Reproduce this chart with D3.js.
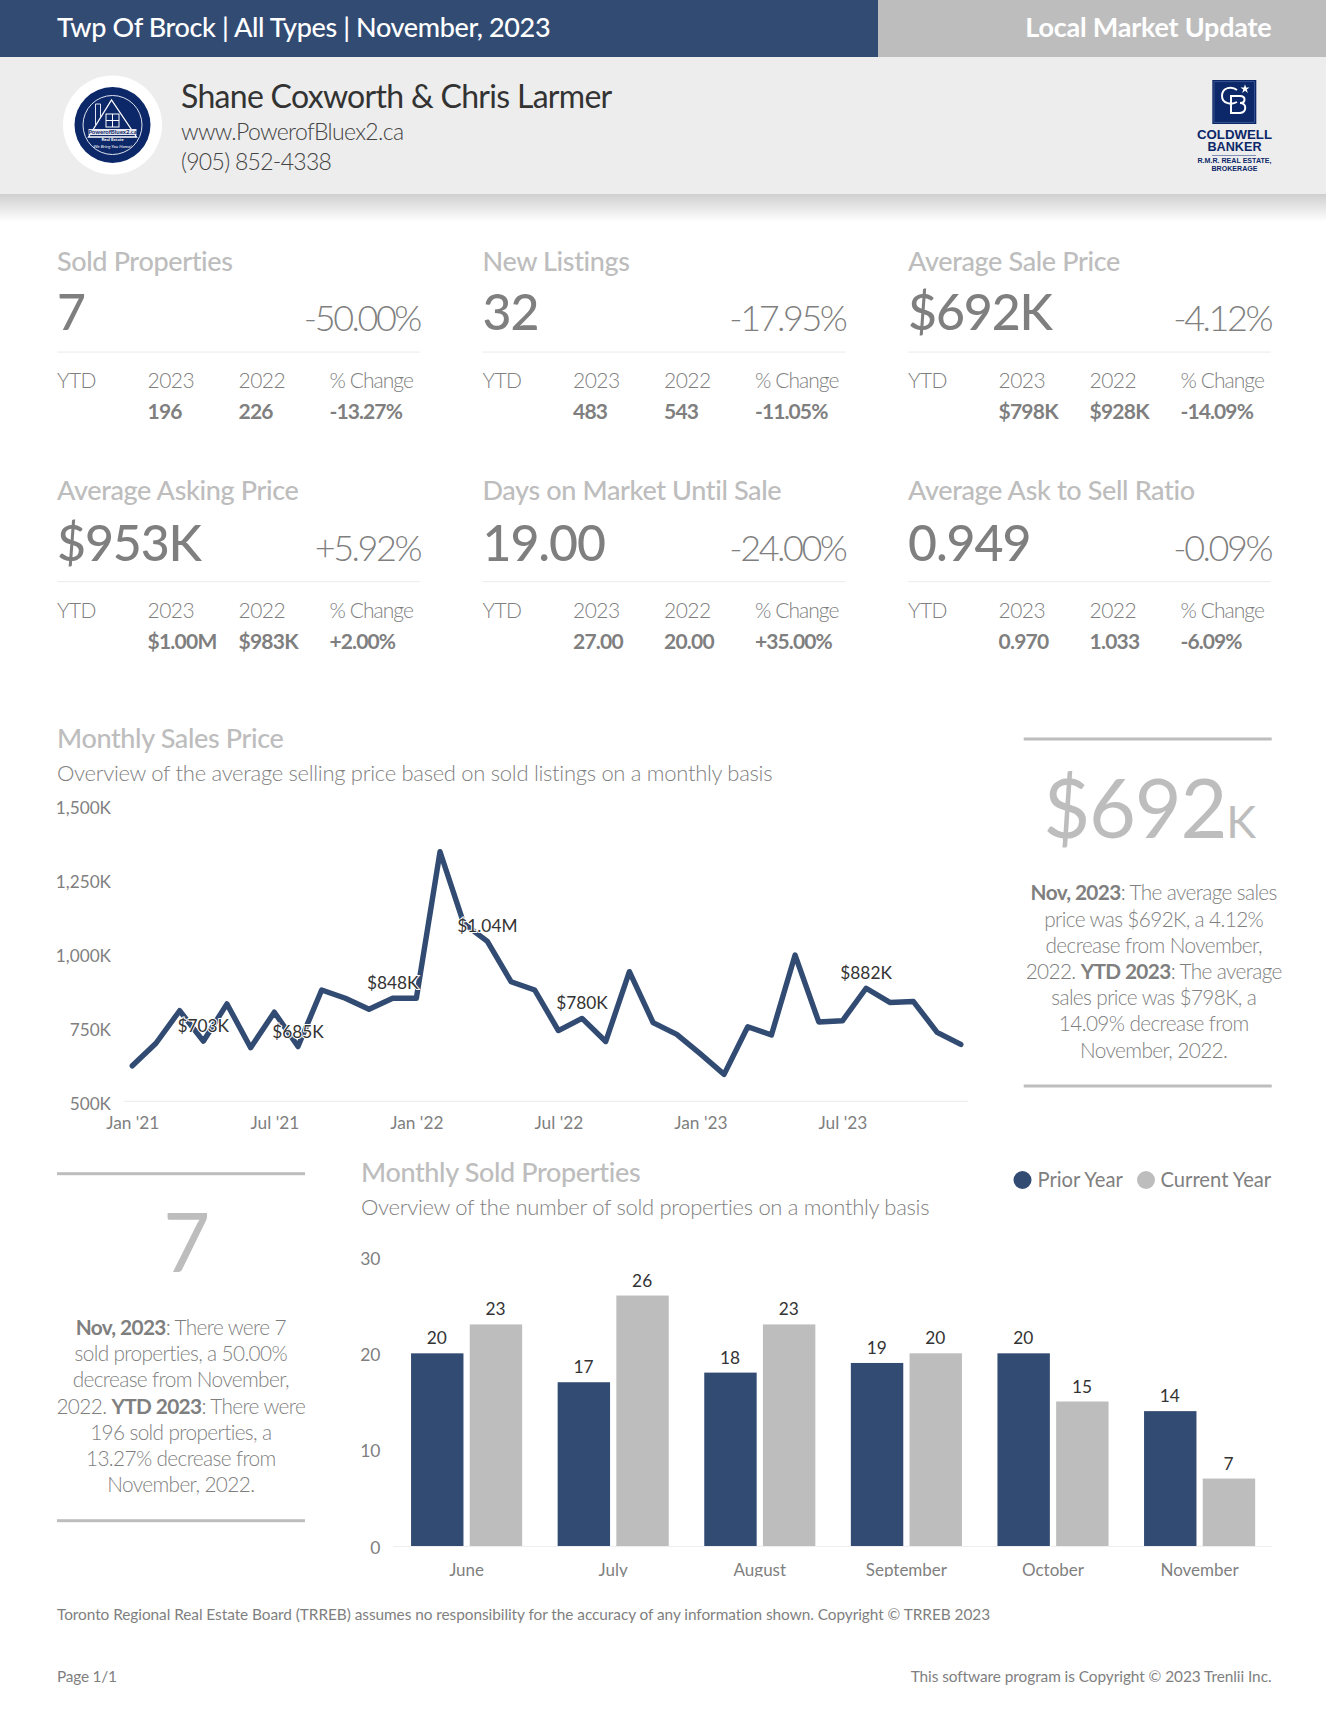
<!DOCTYPE html>
<html><head><meta charset="utf-8">
<script src="https://cdnjs.cloudflare.com/ajax/libs/d3/7.8.5/d3.min.js"></script>
<style>
html,body{margin:0;padding:0;background:#fff}
svg{display:block}
text{font-family:Lato,"Open Sans",sans-serif}
</style></head><body><div id="page"></div>
<script>
// ---- data ----
const priceMonths = ["Jan '21","Feb '21","Mar '21","Apr '21","May '21","Jun '21","Jul '21","Aug '21","Sep '21","Oct '21","Nov '21","Dec '21",
 "Jan '22","Feb '22","Mar '22","Apr '22","May '22","Jun '22","Jul '22","Aug '22","Sep '22","Oct '22","Nov '22","Dec '22",
 "Jan '23","Feb '23","Mar '23","Apr '23","May '23","Jun '23","Jul '23","Aug '23","Sep '23","Oct '23","Nov '23","Dec '23"];
const priceValues = [620,696,806,703,829,681,801,685,876,848,811,848,848,1343,1101,1040,904,876,739,780,702,938,766,726,660,591,752,724,994,768,772,882,834,837,733,692];
const priceTickLabels = ["Jan '21","Jul '21","Jan '22","Jul '22","Jan '23","Jul '23"];
const priceTicks = [500,750,1000,1250,1500];
const priceCallouts = {"Apr '21":"$703K","Aug '21":"$685K","Dec '21":"$848K","Apr '22":"$1.04M","Aug '22":"$780K","Aug '23":"$882K"};

const soldMonths = ["June","July","August","September","October","November"];
const priorYear = [20,17,18,19,20,14];
const currentYear = [23,26,23,20,15,7];
const soldTicks = [0,10,20,30];
const soldSeries = ["Prior Year","Current Year"];

const kpiTitles = ["Sold Properties","New Listings","Average Sale Price","Average Asking Price","Days on Market Until Sale","Average Ask to Sell Ratio"];
const kpiValues = ["7","32","$692K","$953K","19.00","0.949"];
const kpiChanges = ["-50.00%","-17.95%","-4.12%","+5.92%","-24.00%","-0.09%"];
const ytdCurrent = ["196","483","$798K","$1.00M","27.00","0.970"];
const ytdPrior = ["226","543","$928K","$983K","20.00","1.033"];
const ytdChange = ["-13.27%","-11.05%","-14.09%","+2.00%","+35.00%","-6.09%"];

const pricePanel = [
 [["Nov, 2023",1],[": The average sales",0]],
 [["price was $692K, a 4.12%",0]],
 [["decrease from November,",0]],
 [["2022. ",0],["YTD 2023",1],[": The average",0]],
 [["sales price was $798K, a",0]],
 [["14.09% decrease from",0]],
 [["November, 2022.",0]]];
const soldPanel = [
 [["Nov, 2023",1],[": There were 7",0]],
 [["sold properties, a 50.00%",0]],
 [["decrease from November,",0]],
 [["2022. ",0],["YTD 2023",1],[": There were",0]],
 [["196 sold properties, a",0]],
 [["13.27% decrease from",0]],
 [["November, 2022.",0]]];

// ---- page ----
const BLUE="#324b73", GREY="#bdbdbd", TXT="#7f7f7f", DARK="#333333", NAVY="#0c2868";
const svg = d3.select("#page").append("svg").attr("width",1326).attr("height",1726);
const defs = svg.append("defs");
const g0 = defs.append("linearGradient").attr("id","shadow").attr("x1",0).attr("x2",0).attr("y1",0).attr("y2",1);
g0.append("stop").attr("offset",0).attr("stop-color","#cfcfcf");
g0.append("stop").attr("offset",1).attr("stop-color","#ffffff");
defs.append("clipPath").attr("id","barclip").append("rect").attr("x",340).attr("y",1200).attr("width",986).attr("height",377);

function T(x,y,s,size,fill,weight,anchor,parent,ls){
  return (parent||svg).append("text").attr("x",x).attr("y",y).text(s)
    .attr("font-size",size).attr("fill",fill).attr("font-weight",weight||400).attr("text-anchor",anchor||"start")
    .attr("letter-spacing",ls||0);
}
// header
svg.append("rect").attr("x",0).attr("y",0).attr("width",878).attr("height",57).attr("fill",BLUE);
svg.append("rect").attr("x",878).attr("y",0).attr("width",448).attr("height",57).attr("fill",GREY);
svg.append("rect").attr("x",0).attr("y",57).attr("width",1326).attr("height",137).attr("fill","#ededed");
svg.append("rect").attr("x",0).attr("y",194).attr("width",1326).attr("height",28).attr("fill","url(#shadow)");
T(57,37,"Twp Of Brock | All Types | November, 2023",27,"#fff",500,null,null,-0.38);
T(1271.5,37,"Local Market Update",27,"#fff",700,"end",null,-0.23);
T(181,108,"Shane Coxworth & Chris Larmer",32,DARK,400,null,null,-0.7);
T(181,140,"www.PowerofBluex2.ca",23,"#444",300,null,null,-0.66);
T(181,170,"(905) 852-4338",23,"#444",300,null,null,-0.7);

// left logo
const L = svg.append("g").attr("transform","translate(112.5,125)");
L.append("circle").attr("r",49.5).attr("fill","#fff");
L.append("circle").attr("r",38).attr("fill",NAVY);
L.append("circle").attr("r",29.5).attr("fill","none").attr("stroke","#dfe4f0").attr("stroke-width",1);
L.append("path").attr("d","M-24,12 L-1,-25 L24,12 Z").attr("fill","none").attr("stroke","#fff").attr("stroke-width",1.3);
L.append("path").attr("d","M-17,1 V-21 H-12 V-8").attr("fill","none").attr("stroke","#dfe4f0").attr("stroke-width",1);
L.append("rect").attr("x",-6.5).attr("y",-11).attr("width",13).attr("height",13).attr("fill","none").attr("stroke","#fff").attr("stroke-width",1);
L.append("path").attr("d","M0,-11 V2 M-6.5,-4.5 H6.5").attr("stroke","#fff").attr("stroke-width",1);
L.append("rect").attr("x",-24).attr("y",4).attr("width",48).attr("height",6).attr("fill","#e8e8f0");
T(0,9,"PowerofBluex2.ca",6,NAVY,700,"middle",L);
T(0,16,"Real Estate",4.5,"#fff",700,"middle",L);
T(0,23,"We Bring You Home!",4.5,"#fff",400,"middle",L).attr("font-style","italic");

// right logo
const R = svg.append("g");
R.append("rect").attr("x",1212.3).attr("y",80).attr("width",44).attr("height",44).attr("fill",NAVY);
R.append("rect").attr("x",1214).attr("y",81.7).attr("width",40.6).attr("height",40.6).attr("fill","none").attr("stroke","#4a64a0").attr("stroke-width",.7);
R.append("path").attr("d","M1237,90 C1232,86 1222,87 1222,96 C1222,104 1232,105 1237,102").attr("fill","none").attr("stroke","#fff").attr("stroke-width",2);
R.append("path").attr("d","M1231,96 H1240 C1246,96 1246,103 1240,103 C1247,103 1247,112 1240,113 H1231 Z").attr("fill","none").attr("stroke","#fff").attr("stroke-width",2);
R.append("path").attr("d",d3.symbol(d3.symbolStar,26)()).attr("transform","translate(1245,89)").attr("fill","#fff");
[["COLDWELL",138.5,12,75],["BANKER",151,12,54]].forEach(d=>{
  T(1234.5,d[1],d[0],d[2],NAVY,700,"middle").attr("textLength",d[3]).attr("lengthAdjust","spacingAndGlyphs").style("font-family","'Liberation Sans'");
});
svg.append("rect").attr("x",1212).attr("y",155).attr("width",44).attr("height",1).attr("fill","#7f8fb8");
T(1234.5,163,"R.M.R. REAL ESTATE,",7,NAVY,700,"middle").attr("textLength",74).attr("lengthAdjust","spacingAndGlyphs").style("font-family","'Liberation Sans'");
T(1234.5,171,"BROKERAGE",7,NAVY,700,"middle").attr("textLength",46).attr("lengthAdjust","spacingAndGlyphs").style("font-family","'Liberation Sans'");

// KPI grid
kpiTitles.forEach((title,i)=>{
  const x = [57,482.5,908][i%3], row = i<3?0:1, dy = row*229.5;
  T(x,270.7+row*229,title,27,GREY,500,null,null,-0.36);
  T(x,330+row*230.5,kpiValues[i],50,TXT,500,null,null,-1.1);
  T(x+363,331+row*230,kpiChanges[i],36,TXT,300,"end",null,-2.45);
  svg.append("rect").attr("x",x).attr("y",351.5+dy).attr("width",363).attr("height",1.2).attr("fill","#eeeeee");
  const cols=[x,x+90.5,x+181.5,x+272.5];
  ["YTD","2023","2022","% Change"].forEach((s,k)=>T(cols[k],388+dy,s,21,TXT,300,null,null,k==3?-0.95:-0.55));
  T(cols[1],419+dy,ytdCurrent[i],21,TXT,700,null,null,-0.75);
  T(cols[2],419+dy,ytdPrior[i],21,TXT,700,null,null,-0.75);
  T(cols[3],419+dy,ytdChange[i],21,TXT,700,null,null,-0.9);
});

// Line chart
T(57,748,"Monthly Sales Price",27,GREY,500,null,null,-0.36);
T(57,780.5,"Overview of the average selling price based on sold listings on a monthly basis",22,TXT,300,null,null,-0.3);
const xL = d3.scalePoint().domain(priceMonths).range([132.3,960.8]);
const yL = d3.scaleLinear().domain([500,1500]).range([1101.3,805.3]);
svg.append("line").attr("x1",124).attr("x2",968).attr("y1",yL(500)).attr("y2",yL(500)).attr("stroke","#eeeeee").attr("stroke-width",1.2);
const axL = svg.append("g").attr("transform","translate(124,0)")
  .call(d3.axisLeft(yL).tickValues(priceTicks).tickSize(0).tickPadding(13).tickFormat(d=>d3.format(",")(d)+"K"));
axL.select(".domain").remove();
axL.selectAll("text").attr("font-size",17.2).attr("fill",TXT).attr("dy","7.8px").style("font-family","Lato");
const axB = svg.append("g").attr("transform","translate(0,1101.3)")
  .call(d3.axisBottom(xL).tickValues(priceTickLabels).tickSize(0).tickPadding(0));
axB.select(".domain").remove();
axB.selectAll("text").attr("font-size",17.3).attr("fill",TXT).attr("y",28).attr("dy",0).style("font-family","Lato");
svg.append("path").datum(priceValues)
  .attr("d",d3.line().x((d,i)=>xL(priceMonths[i])).y(d=>yL(d)))
  .attr("fill","none").attr("stroke",BLUE).attr("stroke-width",5.4).attr("stroke-linejoin","round").attr("stroke-linecap","round");
svg.append("g").selectAll("text").data(priceMonths.filter(m=>priceCallouts[m])).join("text")
  .attr("x",m=>xL(m)).attr("y",m=>yL(priceValues[priceMonths.indexOf(m)])-9)
  .attr("text-anchor","middle").attr("font-size",17.3).attr("fill",DARK)
  .attr("stroke","#fff").attr("stroke-width",2).attr("paint-order","stroke").text(m=>priceCallouts[m]);

// Side panels
function panel(x1,x2,yTop,yBot,cx,lines,firstBase){
  [yTop,yBot].forEach(y=>svg.append("rect").attr("x",x1).attr("y",y-1.5).attr("width",x2-x1).attr("height",3).attr("fill",GREY));
  lines.forEach((ln,i)=>{
    const t = svg.append("text").attr("x",cx).attr("y",firstBase+i*26.2).attr("text-anchor","middle").attr("font-size",20.8).attr("fill",TXT).attr("font-weight",300).attr("letter-spacing",-0.63);
    ln.forEach(p=>t.append("tspan").text(p[0]).attr("font-weight",p[1]?700:300));
  });
}
panel(1023.7,1271.7,739,1086,1153.7,pricePanel,900.3);
const big = svg.append("text").attr("x",1149).attr("y",838).attr("text-anchor","middle").attr("font-size",81).attr("fill",GREY).attr("font-weight",400).attr("letter-spacing",-1.2);
big.append("tspan").text("$692");
big.append("tspan").text("K").attr("font-size",45);
panel(57,305,1173.7,1520.7,180.8,soldPanel,1335);
T(186.7,1271.7,"7",81,GREY,400,"middle");

// Bar chart
T(361,1182,"Monthly Sold Properties",27,GREY,500,null,null,-0.36);
T(361,1214.5,"Overview of the number of sold properties on a monthly basis",22,TXT,300,null,null,-0.3);
const legendItems = [[1022.5,1037.5],[1146,1160.5]];
soldSeries.forEach((s,i)=>{
  svg.append("circle").attr("cx",legendItems[i][0]).attr("cy",1180).attr("r",9).attr("fill",i?GREY:BLUE);
  T(legendItems[i][1],1186.5,s,20.2,TXT,400);
});
const xB = d3.scaleBand().domain(soldMonths).range([393.3,1272.9]);
const xS = d3.scaleBand().domain(soldSeries).range([17.75,128.85]).paddingInner(0.107);
const yB = d3.scaleLinear().domain([0,30]).range([1546,1257]);
svg.append("line").attr("x1",393).attr("x2",1272).attr("y1",1546.5).attr("y2",1546.5).attr("stroke","#eeeeee").attr("stroke-width",1.2);
const ayB = svg.append("g").attr("transform","translate(393,0)")
  .call(d3.axisLeft(yB).tickValues(soldTicks).tickSize(0).tickPadding(12.5).tickFormat(d3.format("d")));
ayB.select(".domain").remove();
ayB.selectAll("text").attr("font-size",17.5).attr("fill",TXT).attr("dy","7px").style("font-family","Lato");
const axS = svg.append("g").attr("clip-path","url(#barclip)").append("g").attr("transform","translate(0,1546)")
  .call(d3.axisBottom(xB).tickSize(0).tickPadding(0));
axS.select(".domain").remove();
axS.selectAll("text").attr("font-size",17).attr("fill",TXT).attr("y",29.7).attr("dy",0).style("font-family","Lato");
[priorYear,currentYear].forEach((vals,k)=>{
  const g = svg.append("g");
  g.selectAll("rect").data(vals).join("rect")
    .attr("x",(d,i)=>xB(soldMonths[i])+xS(soldSeries[k])).attr("width",xS.bandwidth())
    .attr("y",d=>yB(d)).attr("height",d=>yB(0)-yB(d)).attr("fill",k?GREY:BLUE);
  g.selectAll("text").data(vals).join("text")
    .attr("x",(d,i)=>xB(soldMonths[i])+xS(soldSeries[k])+xS.bandwidth()/2-0.4).attr("y",d=>yB(d)-9)
    .attr("text-anchor","middle").attr("font-size",17.3).attr("fill",DARK).text(d=>d);
});

// Footer
T(57,1620,"Toronto Regional Real Estate Board (TRREB) assumes no responsibility for the accuracy of any information shown. Copyright © TRREB 2023",15.4,TXT,400,null,null,-0.055);
T(57,1682,"Page 1/1",15.4,TXT,400,null,null,-0.2);
T(1271.5,1682,"This software program is Copyright © 2023 Trenlii Inc.",15.4,TXT,400,"end",null,-0.06);
</script></body></html>
